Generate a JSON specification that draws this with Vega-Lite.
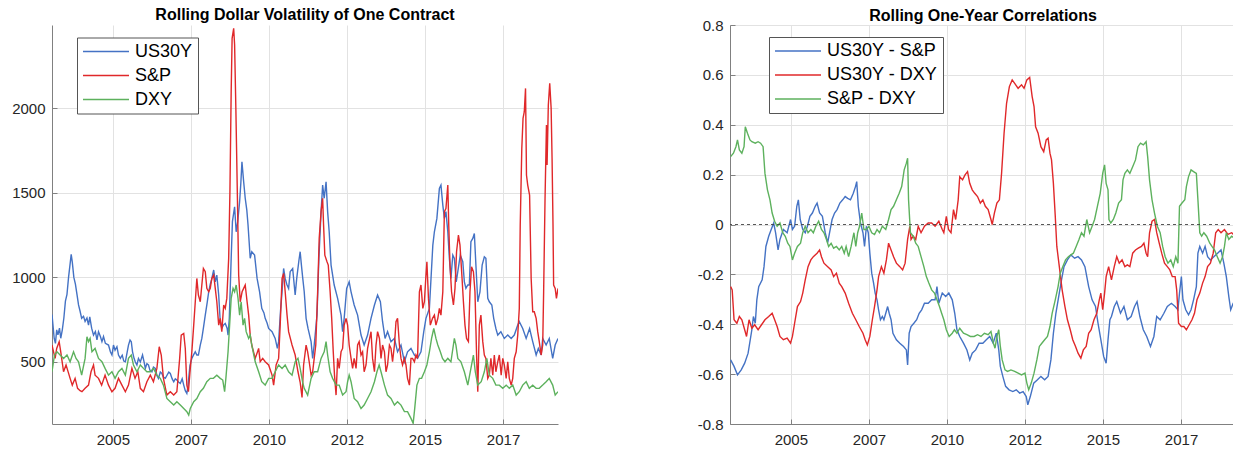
{
"$schema":"https://vega.github.io/schema/vega-lite/v6.json",
"padding":{"left":11,"top":7,"right":0,"bottom":0},
"background":"white",
"config":{
 "view":{"stroke":null},
 "font":"Liberation Sans",
 "axis":{"labelFont":"Liberation Sans","labelFontSize":15,"labelColor":"#262626","domainColor":"#808080","tickColor":"#808080","gridColor":"#E2E2E2","gridWidth":1,"title":null,"tickSize":-5,"labelOverlap":false},
 "axisX":{"labelPadding":13},
 "axisY":{"labelPadding":12},
 "title":{"font":"Liberation Sans","fontSize":16,"fontWeight":"bold","color":"#000000","anchor":"middle","offset":2},
 "legend":{"orient":"none","title":null,"symbolType":"stroke","symbolSize":2116,"symbolStrokeWidth":1.5,"labelFont":"Liberation Sans","labelFontSize":18,"labelColor":"#000000","strokeColor":"#555555","fillColor":"white","padding":5,"labelOffset":5,"clipHeight":18,"rowPadding":6,"symbolOffset":0,"labelLimit":300}
},
"datasets":{
"lu":[{"t":2003.05,"v":780},{"t":2003.08,"v":720},{"t":2003.12,"v":640},{"t":2003.16,"v":610},{"t":2003.2,"v":690},{"t":2003.24,"v":660},{"t":2003.29,"v":700},{"t":2003.33,"v":640},{"t":2003.38,"v":690},{"t":2003.43,"v":760},{"t":2003.48,"v":860},{"t":2003.53,"v":900},{"t":2003.58,"v":1000},{"t":2003.63,"v":1080},{"t":2003.665,"v":1136},{"t":2003.7,"v":1090},{"t":2003.75,"v":1000},{"t":2003.8,"v":960},{"t":2003.85,"v":900},{"t":2003.9,"v":837},{"t":2003.95,"v":800},{"t":2004.0,"v":758},{"t":2004.06,"v":770},{"t":2004.11,"v":740},{"t":2004.17,"v":760},{"t":2004.22,"v":718},{"t":2004.26,"v":767},{"t":2004.32,"v":700},{"t":2004.38,"v":659},{"t":2004.44,"v":680},{"t":2004.49,"v":630},{"t":2004.54,"v":679},{"t":2004.6,"v":650},{"t":2004.65,"v":620},{"t":2004.7,"v":650},{"t":2004.76,"v":610},{"t":2004.86,"v":600},{"t":2004.92,"v":560},{"t":2004.97,"v":541},{"t":2005.02,"v":600},{"t":2005.07,"v":570},{"t":2005.13,"v":590},{"t":2005.18,"v":541},{"t":2005.24,"v":521},{"t":2005.3,"v":540},{"t":2005.35,"v":505},{"t":2005.4,"v":501},{"t":2005.46,"v":560},{"t":2005.5,"v":600},{"t":2005.55,"v":630},{"t":2005.59,"v":620},{"t":2005.63,"v":560},{"t":2005.68,"v":520},{"t":2005.72,"v":500},{"t":2005.77,"v":482},{"t":2005.82,"v":521},{"t":2005.88,"v":500},{"t":2005.95,"v":541},{"t":2006.0,"v":500},{"t":2006.04,"v":462},{"t":2006.09,"v":490},{"t":2006.14,"v":482},{"t":2006.19,"v":450},{"t":2006.25,"v":442},{"t":2006.3,"v":470},{"t":2006.36,"v":462},{"t":2006.41,"v":420},{"t":2006.46,"v":403},{"t":2006.52,"v":440},{"t":2006.57,"v":432},{"t":2006.62,"v":410},{"t":2006.68,"v":403},{"t":2006.73,"v":420},{"t":2006.79,"v":440},{"t":2006.84,"v":432},{"t":2006.9,"v":400},{"t":2006.95,"v":383},{"t":2007.0,"v":400},{"t":2007.05,"v":393},{"t":2007.11,"v":380},{"t":2007.16,"v":373},{"t":2007.22,"v":400},{"t":2007.27,"v":363},{"t":2007.32,"v":330},{"t":2007.37,"v":314},{"t":2007.41,"v":360},{"t":2007.43,"v":403},{"t":2007.47,"v":480},{"t":2007.53,"v":521},{"t":2007.58,"v":540},{"t":2007.64,"v":560},{"t":2007.69,"v":541},{"t":2007.74,"v":541},{"t":2007.8,"v":600},{"t":2007.85,"v":639},{"t":2007.9,"v":700},{"t":2007.96,"v":777},{"t":2008.02,"v":850},{"t":2008.07,"v":915},{"t":2008.12,"v":960},{"t":2008.16,"v":985},{"t":2008.2,"v":1020},{"t":2008.23,"v":1044},{"t":2008.28,"v":974},{"t":2008.33,"v":1014},{"t":2008.39,"v":896},{"t":2008.44,"v":738},{"t":2008.49,"v":700},{"t":2008.54,"v":718},{"t":2008.6,"v":728},{"t":2008.66,"v":700},{"t":2008.69,"v":659},{"t":2008.73,"v":758},{"t":2008.79,"v":1113},{"t":2008.83,"v":1330},{"t":2008.9,"v":1418},{"t":2008.95,"v":1270},{"t":2009.0,"v":1330},{"t":2009.06,"v":1448},{"t":2009.1,"v":1560},{"t":2009.135,"v":1684},{"t":2009.19,"v":1566},{"t":2009.24,"v":1468},{"t":2009.29,"v":1400},{"t":2009.33,"v":1310},{"t":2009.4,"v":1113},{"t":2009.45,"v":1152},{"t":2009.54,"v":1132},{"t":2009.62,"v":994},{"t":2009.7,"v":915},{"t":2009.77,"v":817},{"t":2009.84,"v":790},{"t":2009.88,"v":758},{"t":2009.94,"v":730},{"t":2009.99,"v":698},{"t":2010.1,"v":679},{"t":2010.2,"v":639},{"t":2010.27,"v":580},{"t":2010.31,"v":620},{"t":2010.37,"v":800},{"t":2010.42,"v":915},{"t":2010.47,"v":1053},{"t":2010.52,"v":994},{"t":2010.57,"v":960},{"t":2010.63,"v":935},{"t":2010.68,"v":1034},{"t":2010.76,"v":1053},{"t":2010.84,"v":896},{"t":2010.89,"v":994},{"t":2010.96,"v":1100},{"t":2011.0,"v":1152},{"t":2011.04,"v":1073},{"t":2011.08,"v":1000},{"t":2011.13,"v":915},{"t":2011.19,"v":758},{"t":2011.25,"v":700},{"t":2011.3,"v":660},{"t":2011.35,"v":620},{"t":2011.4,"v":521},{"t":2011.45,"v":600},{"t":2011.54,"v":777},{"t":2011.6,"v":1113},{"t":2011.67,"v":1389},{"t":2011.72,"v":1546},{"t":2011.77,"v":1468},{"t":2011.83,"v":1566},{"t":2011.88,"v":1389},{"t":2011.93,"v":1270},{"t":2011.99,"v":1073},{"t":2012.04,"v":1014},{"t":2012.09,"v":955},{"t":2012.2,"v":876},{"t":2012.31,"v":777},{"t":2012.36,"v":679},{"t":2012.41,"v":758},{"t":2012.49,"v":935},{"t":2012.57,"v":974},{"t":2012.63,"v":915},{"t":2012.73,"v":837},{"t":2012.84,"v":777},{"t":2012.95,"v":659},{"t":2013.05,"v":600},{"t":2013.16,"v":659},{"t":2013.27,"v":758},{"t":2013.38,"v":837},{"t":2013.48,"v":896},{"t":2013.57,"v":856},{"t":2013.64,"v":738},{"t":2013.72,"v":639},{"t":2013.8,"v":679},{"t":2013.91,"v":620},{"t":2014.02,"v":639},{"t":2014.12,"v":560},{"t":2014.23,"v":600},{"t":2014.34,"v":501},{"t":2014.44,"v":560},{"t":2014.55,"v":580},{"t":2014.66,"v":541},{"t":2014.76,"v":521},{"t":2014.87,"v":560},{"t":2014.96,"v":679},{"t":2015.03,"v":758},{"t":2015.14,"v":817},{"t":2015.25,"v":1191},{"t":2015.3,"v":1270},{"t":2015.38,"v":1349},{"t":2015.46,"v":1527},{"t":2015.51,"v":1546},{"t":2015.57,"v":1428},{"t":2015.62,"v":1349},{"t":2015.67,"v":1389},{"t":2015.73,"v":1270},{"t":2015.78,"v":1113},{"t":2015.83,"v":994},{"t":2015.89,"v":1132},{"t":2015.94,"v":1113},{"t":2016.0,"v":974},{"t":2016.05,"v":1034},{"t":2016.13,"v":1132},{"t":2016.21,"v":1093},{"t":2016.26,"v":974},{"t":2016.31,"v":935},{"t":2016.37,"v":955},{"t":2016.42,"v":955},{"t":2016.47,"v":1211},{"t":2016.53,"v":1231},{"t":2016.58,"v":1260},{"t":2016.63,"v":1073},{"t":2016.69,"v":856},{"t":2016.76,"v":915},{"t":2016.83,"v":1073},{"t":2016.9,"v":1122},{"t":2016.95,"v":1113},{"t":2017.01,"v":876},{"t":2017.06,"v":856},{"t":2017.14,"v":837},{"t":2017.2,"v":758},{"t":2017.27,"v":698},{"t":2017.33,"v":659},{"t":2017.43,"v":679},{"t":2017.54,"v":639},{"t":2017.65,"v":659},{"t":2017.76,"v":639},{"t":2017.86,"v":659},{"t":2017.97,"v":718},{"t":2018.02,"v":738},{"t":2018.13,"v":698},{"t":2018.24,"v":639},{"t":2018.35,"v":698},{"t":2018.45,"v":620},{"t":2018.56,"v":541},{"t":2018.63,"v":580},{"t":2018.72,"v":541},{"t":2018.77,"v":639},{"t":2018.88,"v":600},{"t":2018.98,"v":639},{"t":2019.09,"v":521},{"t":2019.17,"v":600},{"t":2019.26,"v":639}],
"ls":[{"t":2003.05,"v":600},{"t":2003.1,"v":560},{"t":2003.15,"v":521},{"t":2003.2,"v":580},{"t":2003.28,"v":620},{"t":2003.33,"v":560},{"t":2003.36,"v":521},{"t":2003.42,"v":442},{"t":2003.5,"v":482},{"t":2003.57,"v":440},{"t":2003.63,"v":403},{"t":2003.7,"v":363},{"t":2003.79,"v":403},{"t":2003.87,"v":344},{"t":2003.95,"v":330},{"t":2004.01,"v":324},{"t":2004.11,"v":344},{"t":2004.22,"v":363},{"t":2004.3,"v":442},{"t":2004.38,"v":482},{"t":2004.43,"v":422},{"t":2004.54,"v":403},{"t":2004.64,"v":363},{"t":2004.75,"v":422},{"t":2004.86,"v":363},{"t":2004.97,"v":324},{"t":2005.07,"v":344},{"t":2005.18,"v":403},{"t":2005.29,"v":363},{"t":2005.4,"v":324},{"t":2005.5,"v":363},{"t":2005.61,"v":462},{"t":2005.71,"v":403},{"t":2005.8,"v":442},{"t":2005.88,"v":344},{"t":2005.98,"v":324},{"t":2006.09,"v":383},{"t":2006.2,"v":422},{"t":2006.3,"v":383},{"t":2006.41,"v":462},{"t":2006.485,"v":590},{"t":2006.55,"v":541},{"t":2006.62,"v":403},{"t":2006.73,"v":304},{"t":2006.84,"v":324},{"t":2006.95,"v":304},{"t":2007.05,"v":324},{"t":2007.14,"v":521},{"t":2007.19,"v":659},{"t":2007.27,"v":669},{"t":2007.32,"v":580},{"t":2007.37,"v":363},{"t":2007.42,"v":324},{"t":2007.48,"v":462},{"t":2007.53,"v":560},{"t":2007.59,"v":718},{"t":2007.64,"v":856},{"t":2007.69,"v":994},{"t":2007.74,"v":896},{"t":2007.8,"v":856},{"t":2007.85,"v":955},{"t":2007.9,"v":1053},{"t":2007.96,"v":1034},{"t":2008.01,"v":935},{"t":2008.07,"v":915},{"t":2008.12,"v":935},{"t":2008.17,"v":994},{"t":2008.23,"v":1014},{"t":2008.28,"v":935},{"t":2008.33,"v":856},{"t":2008.39,"v":718},{"t":2008.44,"v":758},{"t":2008.49,"v":679},{"t":2008.55,"v":837},{"t":2008.6,"v":817},{"t":2008.65,"v":876},{"t":2008.71,"v":1113},{"t":2008.75,"v":1507},{"t":2008.79,"v":2099},{"t":2008.82,"v":2414},{"t":2008.87,"v":2473},{"t":2008.9,"v":2375},{"t":2008.94,"v":2000},{"t":2008.99,"v":1468},{"t":2009.03,"v":1014},{"t":2009.08,"v":856},{"t":2009.14,"v":915},{"t":2009.19,"v":935},{"t":2009.24,"v":955},{"t":2009.3,"v":856},{"t":2009.35,"v":777},{"t":2009.4,"v":659},{"t":2009.45,"v":600},{"t":2009.56,"v":521},{"t":2009.67,"v":580},{"t":2009.72,"v":501},{"t":2009.8,"v":521},{"t":2009.88,"v":501},{"t":2009.99,"v":482},{"t":2010.1,"v":422},{"t":2010.15,"v":363},{"t":2010.23,"v":482},{"t":2010.31,"v":521},{"t":2010.36,"v":718},{"t":2010.42,"v":994},{"t":2010.47,"v":1024},{"t":2010.52,"v":915},{"t":2010.58,"v":777},{"t":2010.63,"v":679},{"t":2010.74,"v":600},{"t":2010.84,"v":541},{"t":2010.93,"v":442},{"t":2011.0,"v":380},{"t":2011.06,"v":290},{"t":2011.11,"v":482},{"t":2011.19,"v":600},{"t":2011.24,"v":560},{"t":2011.29,"v":501},{"t":2011.35,"v":422},{"t":2011.4,"v":442},{"t":2011.45,"v":521},{"t":2011.5,"v":600},{"t":2011.56,"v":915},{"t":2011.61,"v":1231},{"t":2011.67,"v":1389},{"t":2011.72,"v":1468},{"t":2011.75,"v":1310},{"t":2011.79,"v":1132},{"t":2011.86,"v":1093},{"t":2011.9,"v":1073},{"t":2011.96,"v":915},{"t":2012.01,"v":758},{"t":2012.06,"v":560},{"t":2012.1,"v":422},{"t":2012.15,"v":304},{"t":2012.2,"v":521},{"t":2012.25,"v":462},{"t":2012.31,"v":560},{"t":2012.36,"v":580},{"t":2012.41,"v":718},{"t":2012.47,"v":758},{"t":2012.52,"v":718},{"t":2012.57,"v":600},{"t":2012.63,"v":521},{"t":2012.68,"v":462},{"t":2012.73,"v":521},{"t":2012.79,"v":462},{"t":2012.84,"v":600},{"t":2012.89,"v":620},{"t":2012.95,"v":541},{"t":2013.0,"v":560},{"t":2013.05,"v":442},{"t":2013.11,"v":482},{"t":2013.16,"v":580},{"t":2013.27,"v":679},{"t":2013.32,"v":521},{"t":2013.38,"v":442},{"t":2013.43,"v":600},{"t":2013.48,"v":679},{"t":2013.54,"v":639},{"t":2013.59,"v":521},{"t":2013.64,"v":600},{"t":2013.7,"v":560},{"t":2013.75,"v":442},{"t":2013.8,"v":482},{"t":2013.86,"v":600},{"t":2013.91,"v":580},{"t":2013.96,"v":501},{"t":2014.02,"v":600},{"t":2014.07,"v":738},{"t":2014.12,"v":758},{"t":2014.18,"v":600},{"t":2014.23,"v":521},{"t":2014.28,"v":482},{"t":2014.34,"v":521},{"t":2014.39,"v":482},{"t":2014.44,"v":403},{"t":2014.5,"v":363},{"t":2014.55,"v":521},{"t":2014.6,"v":521},{"t":2014.66,"v":501},{"t":2014.71,"v":541},{"t":2014.76,"v":521},{"t":2014.82,"v":915},{"t":2014.87,"v":955},{"t":2014.93,"v":817},{"t":2014.98,"v":856},{"t":2015.03,"v":1014},{"t":2015.06,"v":1093},{"t":2015.11,"v":876},{"t":2015.17,"v":718},{"t":2015.24,"v":758},{"t":2015.3,"v":777},{"t":2015.35,"v":718},{"t":2015.41,"v":758},{"t":2015.46,"v":817},{"t":2015.51,"v":777},{"t":2015.57,"v":915},{"t":2015.62,"v":1389},{"t":2015.67,"v":1408},{"t":2015.73,"v":1546},{"t":2015.76,"v":1310},{"t":2015.8,"v":1073},{"t":2015.85,"v":915},{"t":2015.91,"v":837},{"t":2015.96,"v":935},{"t":2016.01,"v":1152},{"t":2016.07,"v":1251},{"t":2016.12,"v":1191},{"t":2016.18,"v":1014},{"t":2016.23,"v":856},{"t":2016.28,"v":718},{"t":2016.33,"v":639},{"t":2016.39,"v":620},{"t":2016.44,"v":915},{"t":2016.49,"v":1063},{"t":2016.55,"v":1034},{"t":2016.6,"v":915},{"t":2016.655,"v":521},{"t":2016.69,"v":324},{"t":2016.74,"v":718},{"t":2016.79,"v":777},{"t":2016.85,"v":620},{"t":2016.9,"v":541},{"t":2016.95,"v":521},{"t":2017.01,"v":403},{"t":2017.06,"v":422},{"t":2017.11,"v":521},{"t":2017.17,"v":422},{"t":2017.22,"v":541},{"t":2017.27,"v":442},{"t":2017.33,"v":501},{"t":2017.38,"v":541},{"t":2017.44,"v":422},{"t":2017.49,"v":521},{"t":2017.54,"v":482},{"t":2017.6,"v":403},{"t":2017.65,"v":501},{"t":2017.7,"v":403},{"t":2017.76,"v":363},{"t":2017.81,"v":403},{"t":2017.86,"v":521},{"t":2017.92,"v":560},{"t":2017.97,"v":659},{"t":2018.02,"v":817},{"t":2018.05,"v":1310},{"t":2018.1,"v":1763},{"t":2018.14,"v":1941},{"t":2018.18,"v":1980},{"t":2018.22,"v":2118},{"t":2018.25,"v":1606},{"t":2018.29,"v":1546},{"t":2018.35,"v":1487},{"t":2018.4,"v":994},{"t":2018.45,"v":797},{"t":2018.5,"v":797},{"t":2018.56,"v":758},{"t":2018.61,"v":679},{"t":2018.66,"v":620},{"t":2018.72,"v":541},{"t":2018.77,"v":600},{"t":2018.8,"v":915},{"t":2018.845,"v":1468},{"t":2018.89,"v":1901},{"t":2018.91,"v":1665},{"t":2018.95,"v":2020},{"t":2018.995,"v":2148},{"t":2019.04,"v":2000},{"t":2019.07,"v":1704},{"t":2019.1,"v":1310},{"t":2019.12,"v":955},{"t":2019.17,"v":935},{"t":2019.21,"v":876},{"t":2019.26,"v":935}],
"ld":[{"t":2003.05,"v":442},{"t":2003.13,"v":541},{"t":2003.21,"v":560},{"t":2003.31,"v":541},{"t":2003.42,"v":521},{"t":2003.53,"v":541},{"t":2003.63,"v":501},{"t":2003.74,"v":560},{"t":2003.82,"v":521},{"t":2003.9,"v":501},{"t":2004.0,"v":422},{"t":2004.11,"v":521},{"t":2004.17,"v":649},{"t":2004.22,"v":620},{"t":2004.27,"v":639},{"t":2004.33,"v":560},{"t":2004.43,"v":580},{"t":2004.54,"v":521},{"t":2004.65,"v":501},{"t":2004.75,"v":462},{"t":2004.86,"v":422},{"t":2004.97,"v":442},{"t":2005.07,"v":403},{"t":2005.18,"v":442},{"t":2005.29,"v":462},{"t":2005.4,"v":422},{"t":2005.5,"v":521},{"t":2005.59,"v":541},{"t":2005.66,"v":482},{"t":2005.77,"v":442},{"t":2005.88,"v":482},{"t":2005.98,"v":462},{"t":2006.09,"v":442},{"t":2006.2,"v":442},{"t":2006.3,"v":462},{"t":2006.41,"v":422},{"t":2006.52,"v":403},{"t":2006.62,"v":363},{"t":2006.73,"v":284},{"t":2006.84,"v":265},{"t":2006.95,"v":245},{"t":2007.05,"v":265},{"t":2007.16,"v":245},{"t":2007.27,"v":225},{"t":2007.37,"v":206},{"t":2007.43,"v":186},{"t":2007.48,"v":225},{"t":2007.59,"v":265},{"t":2007.69,"v":284},{"t":2007.8,"v":324},{"t":2007.9,"v":344},{"t":2008.01,"v":383},{"t":2008.12,"v":403},{"t":2008.22,"v":403},{"t":2008.33,"v":422},{"t":2008.44,"v":403},{"t":2008.52,"v":393},{"t":2008.58,"v":324},{"t":2008.62,"v":403},{"t":2008.69,"v":560},{"t":2008.74,"v":718},{"t":2008.79,"v":876},{"t":2008.85,"v":935},{"t":2008.9,"v":915},{"t":2008.95,"v":955},{"t":2009.01,"v":876},{"t":2009.06,"v":777},{"t":2009.11,"v":856},{"t":2009.17,"v":718},{"t":2009.22,"v":758},{"t":2009.27,"v":679},{"t":2009.35,"v":639},{"t":2009.4,"v":659},{"t":2009.45,"v":600},{"t":2009.56,"v":501},{"t":2009.67,"v":442},{"t":2009.77,"v":383},{"t":2009.88,"v":363},{"t":2009.99,"v":403},{"t":2010.1,"v":403},{"t":2010.2,"v":442},{"t":2010.31,"v":482},{"t":2010.42,"v":462},{"t":2010.52,"v":482},{"t":2010.63,"v":442},{"t":2010.74,"v":422},{"t":2010.84,"v":501},{"t":2010.93,"v":521},{"t":2011.0,"v":462},{"t":2011.08,"v":380},{"t":2011.13,"v":344},{"t":2011.24,"v":304},{"t":2011.35,"v":403},{"t":2011.45,"v":442},{"t":2011.56,"v":442},{"t":2011.67,"v":521},{"t":2011.77,"v":560},{"t":2011.83,"v":620},{"t":2011.88,"v":541},{"t":2011.96,"v":442},{"t":2012.04,"v":403},{"t":2012.15,"v":363},{"t":2012.25,"v":363},{"t":2012.36,"v":304},{"t":2012.47,"v":324},{"t":2012.52,"v":383},{"t":2012.57,"v":422},{"t":2012.63,"v":383},{"t":2012.73,"v":284},{"t":2012.84,"v":265},{"t":2012.95,"v":225},{"t":2013.05,"v":245},{"t":2013.16,"v":284},{"t":2013.27,"v":324},{"t":2013.38,"v":383},{"t":2013.46,"v":442},{"t":2013.53,"v":482},{"t":2013.59,"v":442},{"t":2013.7,"v":363},{"t":2013.8,"v":304},{"t":2013.91,"v":284},{"t":2014.02,"v":245},{"t":2014.12,"v":265},{"t":2014.23,"v":245},{"t":2014.34,"v":206},{"t":2014.44,"v":206},{"t":2014.55,"v":166},{"t":2014.62,"v":137},{"t":2014.67,"v":225},{"t":2014.74,"v":363},{"t":2014.82,"v":403},{"t":2014.89,"v":403},{"t":2014.98,"v":442},{"t":2015.06,"v":482},{"t":2015.14,"v":560},{"t":2015.21,"v":639},{"t":2015.28,"v":698},{"t":2015.35,"v":639},{"t":2015.41,"v":600},{"t":2015.49,"v":560},{"t":2015.56,"v":521},{"t":2015.64,"v":501},{"t":2015.73,"v":521},{"t":2015.83,"v":501},{"t":2015.94,"v":639},{"t":2015.99,"v":600},{"t":2016.05,"v":521},{"t":2016.15,"v":501},{"t":2016.26,"v":442},{"t":2016.37,"v":363},{"t":2016.47,"v":462},{"t":2016.55,"v":541},{"t":2016.61,"v":442},{"t":2016.69,"v":363},{"t":2016.8,"v":383},{"t":2016.9,"v":442},{"t":2016.98,"v":521},{"t":2017.06,"v":422},{"t":2017.17,"v":403},{"t":2017.27,"v":363},{"t":2017.38,"v":363},{"t":2017.49,"v":344},{"t":2017.6,"v":363},{"t":2017.7,"v":344},{"t":2017.81,"v":363},{"t":2017.92,"v":304},{"t":2018.02,"v":324},{"t":2018.13,"v":363},{"t":2018.24,"v":383},{"t":2018.34,"v":344},{"t":2018.45,"v":363},{"t":2018.56,"v":344},{"t":2018.66,"v":344},{"t":2018.77,"v":363},{"t":2018.88,"v":383},{"t":2018.98,"v":403},{"t":2019.09,"v":363},{"t":2019.17,"v":304},{"t":2019.26,"v":324}],
"rus":[{"t":2003.07,"v":-0.543},{"t":2003.18,"v":-0.569},{"t":2003.29,"v":-0.603},{"t":2003.41,"v":-0.583},{"t":2003.52,"v":-0.556},{"t":2003.63,"v":-0.516},{"t":2003.75,"v":-0.422},{"t":2003.8,"v":-0.369},{"t":2003.86,"v":-0.396},{"t":2003.91,"v":-0.302},{"t":2003.97,"v":-0.249},{"t":2004.08,"v":-0.222},{"t":2004.14,"v":-0.169},{"t":2004.2,"v":-0.088},{"t":2004.29,"v":-0.047},{"t":2004.37,"v":-0.02},{"t":2004.45,"v":0.006},{"t":2004.51,"v":-0.033},{"t":2004.59,"v":-0.102},{"t":2004.65,"v":-0.06},{"t":2004.76,"v":-0.02},{"t":2004.88,"v":-0.033},{"t":2004.99,"v":0.02},{"t":2005.05,"v":-0.02},{"t":2005.12,"v":-0.007},{"t":2005.19,"v":0.073},{"t":2005.24,"v":0.099},{"t":2005.3,"v":0.02},{"t":2005.38,"v":-0.02},{"t":2005.46,"v":-0.033},{"t":2005.53,"v":-0.007},{"t":2005.61,"v":0.033},{"t":2005.69,"v":0.046},{"t":2005.78,"v":0.073},{"t":2005.84,"v":0.086},{"t":2005.92,"v":0.046},{"t":2006.01,"v":0.033},{"t":2006.1,"v":-0.033},{"t":2006.18,"v":-0.073},{"t":2006.26,"v":-0.02},{"t":2006.32,"v":0.02},{"t":2006.4,"v":0.046},{"t":2006.48,"v":0.06},{"t":2006.57,"v":0.086},{"t":2006.66,"v":0.099},{"t":2006.74,"v":0.112},{"t":2006.82,"v":0.105},{"t":2006.91,"v":0.099},{"t":2007.0,"v":0.125},{"t":2007.07,"v":0.152},{"t":2007.11,"v":0.172},{"t":2007.16,"v":0.073},{"t":2007.23,"v":0.006},{"t":2007.31,"v":-0.033},{"t":2007.36,"v":-0.088},{"t":2007.42,"v":-0.007},{"t":2007.48,"v":-0.033},{"t":2007.53,"v":-0.115},{"t":2007.59,"v":-0.195},{"t":2007.65,"v":-0.235},{"t":2007.7,"v":-0.275},{"t":2007.76,"v":-0.302},{"t":2007.81,"v":-0.342},{"t":2007.87,"v":-0.382},{"t":2007.93,"v":-0.369},{"t":2007.98,"v":-0.382},{"t":2008.04,"v":-0.356},{"t":2008.1,"v":-0.329},{"t":2008.15,"v":-0.356},{"t":2008.21,"v":-0.382},{"t":2008.27,"v":-0.436},{"t":2008.38,"v":-0.462},{"t":2008.49,"v":-0.476},{"t":2008.61,"v":-0.489},{"t":2008.7,"v":-0.503},{"t":2008.74,"v":-0.563},{"t":2008.79,"v":-0.436},{"t":2008.85,"v":-0.409},{"t":2008.94,"v":-0.396},{"t":2009.03,"v":-0.382},{"t":2009.11,"v":-0.356},{"t":2009.19,"v":-0.342},{"t":2009.28,"v":-0.316},{"t":2009.4,"v":-0.316},{"t":2009.51,"v":-0.302},{"t":2009.62,"v":-0.302},{"t":2009.68,"v":-0.249},{"t":2009.74,"v":-0.316},{"t":2009.85,"v":-0.275},{"t":2009.96,"v":-0.289},{"t":2010.06,"v":-0.275},{"t":2010.17,"v":-0.302},{"t":2010.25,"v":-0.356},{"t":2010.32,"v":-0.422},{"t":2010.41,"v":-0.449},{"t":2010.53,"v":-0.476},{"t":2010.64,"v":-0.503},{"t":2010.73,"v":-0.543},{"t":2010.81,"v":-0.516},{"t":2010.92,"v":-0.503},{"t":2011.03,"v":-0.476},{"t":2011.15,"v":-0.476},{"t":2011.26,"v":-0.462},{"t":2011.37,"v":-0.449},{"t":2011.48,"v":-0.476},{"t":2011.58,"v":-0.436},{"t":2011.66,"v":-0.503},{"t":2011.71,"v":-0.569},{"t":2011.79,"v":-0.609},{"t":2011.88,"v":-0.649},{"t":2011.99,"v":-0.663},{"t":2012.11,"v":-0.67},{"t":2012.22,"v":-0.663},{"t":2012.33,"v":-0.676},{"t":2012.44,"v":-0.67},{"t":2012.54,"v":-0.69},{"t":2012.59,"v":-0.723},{"t":2012.67,"v":-0.69},{"t":2012.78,"v":-0.636},{"t":2012.9,"v":-0.623},{"t":2013.01,"v":-0.609},{"t":2013.13,"v":-0.623},{"t":2013.24,"v":-0.609},{"t":2013.33,"v":-0.543},{"t":2013.41,"v":-0.436},{"t":2013.49,"v":-0.356},{"t":2013.58,"v":-0.289},{"t":2013.67,"v":-0.222},{"t":2013.75,"v":-0.169},{"t":2013.86,"v":-0.142},{"t":2013.97,"v":-0.122},{"t":2014.09,"v":-0.135},{"t":2014.2,"v":-0.129},{"t":2014.31,"v":-0.142},{"t":2014.42,"v":-0.169},{"t":2014.54,"v":-0.249},{"t":2014.65,"v":-0.302},{"t":2014.76,"v":-0.329},{"t":2014.84,"v":-0.396},{"t":2014.93,"v":-0.462},{"t":2015.02,"v":-0.529},{"t":2015.1,"v":-0.556},{"t":2015.16,"v":-0.462},{"t":2015.22,"v":-0.382},{"t":2015.27,"v":-0.369},{"t":2015.36,"v":-0.329},{"t":2015.44,"v":-0.309},{"t":2015.56,"v":-0.356},{"t":2015.67,"v":-0.329},{"t":2015.78,"v":-0.382},{"t":2015.9,"v":-0.369},{"t":2016.01,"v":-0.329},{"t":2016.09,"v":-0.309},{"t":2016.18,"v":-0.369},{"t":2016.29,"v":-0.422},{"t":2016.4,"v":-0.449},{"t":2016.52,"v":-0.489},{"t":2016.63,"v":-0.449},{"t":2016.72,"v":-0.369},{"t":2016.83,"v":-0.382},{"t":2016.95,"v":-0.356},{"t":2017.06,"v":-0.329},{"t":2017.19,"v":-0.316},{"t":2017.31,"v":-0.329},{"t":2017.4,"v":-0.342},{"t":2017.45,"v":-0.275},{"t":2017.51,"v":-0.209},{"t":2017.56,"v":-0.302},{"t":2017.65,"v":-0.342},{"t":2017.74,"v":-0.362},{"t":2017.82,"v":-0.342},{"t":2017.9,"v":-0.302},{"t":2017.99,"v":-0.249},{"t":2018.04,"v":-0.115},{"t":2018.1,"v":-0.088},{"t":2018.19,"v":-0.115},{"t":2018.27,"v":-0.088},{"t":2018.35,"v":-0.129},{"t":2018.44,"v":-0.142},{"t":2018.55,"v":-0.129},{"t":2018.67,"v":-0.115},{"t":2018.78,"v":-0.102},{"t":2018.87,"v":-0.155},{"t":2018.95,"v":-0.209},{"t":2019.03,"v":-0.289},{"t":2019.09,"v":-0.342},{"t":2019.17,"v":-0.316},{"t":2019.26,"v":-0.31}],
"rud":[{"t":2003.07,"v":-0.249},{"t":2003.12,"v":-0.262},{"t":2003.18,"v":-0.382},{"t":2003.27,"v":-0.396},{"t":2003.35,"v":-0.369},{"t":2003.43,"v":-0.382},{"t":2003.52,"v":-0.422},{"t":2003.58,"v":-0.449},{"t":2003.66,"v":-0.382},{"t":2003.75,"v":-0.416},{"t":2003.84,"v":-0.402},{"t":2003.95,"v":-0.422},{"t":2004.06,"v":-0.402},{"t":2004.17,"v":-0.382},{"t":2004.29,"v":-0.369},{"t":2004.4,"v":-0.356},{"t":2004.48,"v":-0.382},{"t":2004.56,"v":-0.409},{"t":2004.65,"v":-0.449},{"t":2004.76,"v":-0.462},{"t":2004.88,"v":-0.456},{"t":2004.99,"v":-0.476},{"t":2005.05,"v":-0.449},{"t":2005.12,"v":-0.396},{"t":2005.21,"v":-0.329},{"t":2005.31,"v":-0.309},{"t":2005.38,"v":-0.275},{"t":2005.46,"v":-0.222},{"t":2005.55,"v":-0.169},{"t":2005.64,"v":-0.142},{"t":2005.72,"v":-0.129},{"t":2005.84,"v":-0.115},{"t":2005.92,"v":-0.102},{"t":2005.98,"v":-0.129},{"t":2006.06,"v":-0.155},{"t":2006.18,"v":-0.169},{"t":2006.29,"v":-0.182},{"t":2006.37,"v":-0.209},{"t":2006.46,"v":-0.195},{"t":2006.55,"v":-0.235},{"t":2006.63,"v":-0.249},{"t":2006.74,"v":-0.275},{"t":2006.85,"v":-0.316},{"t":2006.97,"v":-0.356},{"t":2007.08,"v":-0.382},{"t":2007.19,"v":-0.409},{"t":2007.31,"v":-0.436},{"t":2007.38,"v":-0.462},{"t":2007.45,"v":-0.483},{"t":2007.53,"v":-0.449},{"t":2007.61,"v":-0.382},{"t":2007.68,"v":-0.329},{"t":2007.76,"v":-0.262},{"t":2007.81,"v":-0.209},{"t":2007.9,"v":-0.169},{"t":2007.98,"v":-0.195},{"t":2008.06,"v":-0.142},{"t":2008.13,"v":-0.075},{"t":2008.21,"v":-0.102},{"t":2008.29,"v":-0.129},{"t":2008.38,"v":-0.155},{"t":2008.49,"v":-0.169},{"t":2008.58,"v":-0.182},{"t":2008.66,"v":-0.155},{"t":2008.74,"v":-0.06},{"t":2008.81,"v":-0.007},{"t":2008.85,"v":-0.06},{"t":2008.92,"v":-0.047},{"t":2009.0,"v":-0.06},{"t":2009.08,"v":-0.007},{"t":2009.17,"v":-0.033},{"t":2009.28,"v":-0.007},{"t":2009.4,"v":0.006},{"t":2009.51,"v":0.006},{"t":2009.62,"v":-0.007},{"t":2009.74,"v":0.013},{"t":2009.85,"v":-0.02},{"t":2009.9,"v":-0.033},{"t":2009.98,"v":0.033},{"t":2010.05,"v":-0.02},{"t":2010.13,"v":-0.033},{"t":2010.21,"v":0.06},{"t":2010.28,"v":0.02},{"t":2010.36,"v":0.099},{"t":2010.41,"v":0.192},{"t":2010.5,"v":0.179},{"t":2010.58,"v":0.199},{"t":2010.66,"v":0.212},{"t":2010.73,"v":0.165},{"t":2010.81,"v":0.139},{"t":2010.89,"v":0.125},{"t":2010.98,"v":0.112},{"t":2011.07,"v":0.086},{"t":2011.15,"v":0.099},{"t":2011.23,"v":0.073},{"t":2011.32,"v":0.06},{"t":2011.41,"v":0.02},{"t":2011.45,"v":0.0},{"t":2011.52,"v":0.046},{"t":2011.6,"v":0.086},{"t":2011.68,"v":0.099},{"t":2011.75,"v":0.205},{"t":2011.83,"v":0.366},{"t":2011.91,"v":0.486},{"t":2012.0,"v":0.553},{"t":2012.09,"v":0.58},{"t":2012.17,"v":0.566},{"t":2012.28,"v":0.546},{"t":2012.39,"v":0.56},{"t":2012.47,"v":0.546},{"t":2012.56,"v":0.58},{"t":2012.65,"v":0.59},{"t":2012.73,"v":0.513},{"t":2012.79,"v":0.473},{"t":2012.84,"v":0.392},{"t":2012.92,"v":0.366},{"t":2013.01,"v":0.312},{"t":2013.1,"v":0.292},{"t":2013.18,"v":0.339},{"t":2013.24,"v":0.346},{"t":2013.3,"v":0.286},{"t":2013.35,"v":0.259},{"t":2013.41,"v":0.165},{"t":2013.47,"v":0.033},{"t":2013.52,"v":-0.088},{"t":2013.6,"v":-0.169},{"t":2013.69,"v":-0.262},{"t":2013.78,"v":-0.329},{"t":2013.86,"v":-0.382},{"t":2013.95,"v":-0.422},{"t":2014.03,"v":-0.462},{"t":2014.12,"v":-0.489},{"t":2014.2,"v":-0.516},{"t":2014.29,"v":-0.536},{"t":2014.37,"v":-0.503},{"t":2014.46,"v":-0.489},{"t":2014.54,"v":-0.436},{"t":2014.62,"v":-0.422},{"t":2014.71,"v":-0.382},{"t":2014.8,"v":-0.356},{"t":2014.88,"v":-0.302},{"t":2014.93,"v":-0.275},{"t":2014.99,"v":-0.342},{"t":2015.05,"v":-0.275},{"t":2015.1,"v":-0.209},{"t":2015.18,"v":-0.169},{"t":2015.27,"v":-0.222},{"t":2015.36,"v":-0.169},{"t":2015.44,"v":-0.129},{"t":2015.52,"v":-0.155},{"t":2015.61,"v":-0.142},{"t":2015.7,"v":-0.169},{"t":2015.78,"v":-0.162},{"t":2015.86,"v":-0.169},{"t":2015.95,"v":-0.115},{"t":2016.04,"v":-0.102},{"t":2016.13,"v":-0.095},{"t":2016.23,"v":-0.088},{"t":2016.31,"v":-0.075},{"t":2016.38,"v":-0.115},{"t":2016.43,"v":-0.129},{"t":2016.49,"v":-0.033},{"t":2016.57,"v":0.013},{"t":2016.65,"v":0.02},{"t":2016.72,"v":-0.033},{"t":2016.8,"v":-0.075},{"t":2016.88,"v":-0.115},{"t":2016.97,"v":-0.155},{"t":2017.06,"v":-0.169},{"t":2017.14,"v":-0.182},{"t":2017.22,"v":-0.209},{"t":2017.31,"v":-0.209},{"t":2017.36,"v":-0.262},{"t":2017.42,"v":-0.396},{"t":2017.51,"v":-0.409},{"t":2017.59,"v":-0.409},{"t":2017.67,"v":-0.422},{"t":2017.76,"v":-0.402},{"t":2017.85,"v":-0.382},{"t":2017.93,"v":-0.356},{"t":2018.01,"v":-0.302},{"t":2018.1,"v":-0.275},{"t":2018.19,"v":-0.235},{"t":2018.27,"v":-0.209},{"t":2018.35,"v":-0.169},{"t":2018.44,"v":-0.155},{"t":2018.53,"v":-0.115},{"t":2018.61,"v":-0.033},{"t":2018.69,"v":-0.02},{"t":2018.78,"v":-0.033},{"t":2018.89,"v":-0.02},{"t":2019.0,"v":-0.04},{"t":2019.12,"v":-0.033},{"t":2019.26,"v":-0.05}],
"rsd":[{"t":2003.07,"v":0.272},{"t":2003.16,"v":0.286},{"t":2003.24,"v":0.312},{"t":2003.29,"v":0.339},{"t":2003.35,"v":0.299},{"t":2003.43,"v":0.286},{"t":2003.5,"v":0.312},{"t":2003.54,"v":0.392},{"t":2003.61,"v":0.366},{"t":2003.69,"v":0.339},{"t":2003.75,"v":0.332},{"t":2003.86,"v":0.326},{"t":2003.95,"v":0.332},{"t":2004.03,"v":0.326},{"t":2004.11,"v":0.312},{"t":2004.17,"v":0.205},{"t":2004.25,"v":0.139},{"t":2004.33,"v":0.099},{"t":2004.4,"v":0.046},{"t":2004.48,"v":0.013},{"t":2004.56,"v":-0.007},{"t":2004.65,"v":0.006},{"t":2004.74,"v":-0.033},{"t":2004.82,"v":-0.047},{"t":2004.9,"v":-0.075},{"t":2004.97,"v":-0.088},{"t":2005.05,"v":-0.142},{"t":2005.12,"v":-0.115},{"t":2005.21,"v":-0.088},{"t":2005.31,"v":-0.075},{"t":2005.38,"v":-0.033},{"t":2005.46,"v":-0.007},{"t":2005.55,"v":-0.033},{"t":2005.64,"v":-0.02},{"t":2005.72,"v":-0.033},{"t":2005.8,"v":-0.007},{"t":2005.89,"v":0.013},{"t":2005.98,"v":-0.02},{"t":2006.06,"v":-0.033},{"t":2006.14,"v":-0.06},{"t":2006.21,"v":-0.088},{"t":2006.29,"v":-0.075},{"t":2006.37,"v":-0.095},{"t":2006.46,"v":-0.088},{"t":2006.55,"v":-0.102},{"t":2006.63,"v":-0.088},{"t":2006.71,"v":-0.115},{"t":2006.77,"v":-0.088},{"t":2006.85,"v":-0.129},{"t":2006.93,"v":-0.088},{"t":2007.02,"v":-0.033},{"t":2007.08,"v":-0.088},{"t":2007.14,"v":-0.033},{"t":2007.2,"v":-0.007},{"t":2007.27,"v":0.046},{"t":2007.34,"v":-0.02},{"t":2007.42,"v":-0.02},{"t":2007.5,"v":-0.007},{"t":2007.59,"v":-0.033},{"t":2007.68,"v":-0.04},{"t":2007.76,"v":-0.02},{"t":2007.84,"v":-0.033},{"t":2007.93,"v":-0.007},{"t":2008.04,"v":-0.02},{"t":2008.13,"v":0.02},{"t":2008.21,"v":0.06},{"t":2008.29,"v":0.073},{"t":2008.38,"v":0.099},{"t":2008.47,"v":0.125},{"t":2008.55,"v":0.152},{"t":2008.63,"v":0.219},{"t":2008.7,"v":0.246},{"t":2008.74,"v":0.266},{"t":2008.77,"v":0.099},{"t":2008.83,"v":-0.033},{"t":2008.92,"v":-0.047},{"t":2009.0,"v":-0.075},{"t":2009.08,"v":-0.088},{"t":2009.17,"v":-0.129},{"t":2009.26,"v":-0.169},{"t":2009.34,"v":-0.209},{"t":2009.42,"v":-0.235},{"t":2009.51,"v":-0.262},{"t":2009.6,"v":-0.275},{"t":2009.68,"v":-0.302},{"t":2009.76,"v":-0.329},{"t":2009.83,"v":-0.356},{"t":2009.9,"v":-0.382},{"t":2009.98,"v":-0.422},{"t":2010.07,"v":-0.449},{"t":2010.17,"v":-0.436},{"t":2010.24,"v":-0.422},{"t":2010.32,"v":-0.436},{"t":2010.41,"v":-0.416},{"t":2010.53,"v":-0.436},{"t":2010.64,"v":-0.442},{"t":2010.75,"v":-0.449},{"t":2010.87,"v":-0.449},{"t":2010.98,"v":-0.442},{"t":2011.09,"v":-0.449},{"t":2011.2,"v":-0.436},{"t":2011.32,"v":-0.442},{"t":2011.41,"v":-0.429},{"t":2011.49,"v":-0.476},{"t":2011.54,"v":-0.496},{"t":2011.6,"v":-0.449},{"t":2011.66,"v":-0.422},{"t":2011.71,"v":-0.489},{"t":2011.77,"v":-0.543},{"t":2011.86,"v":-0.583},{"t":2011.94,"v":-0.589},{"t":2012.05,"v":-0.583},{"t":2012.17,"v":-0.589},{"t":2012.28,"v":-0.596},{"t":2012.39,"v":-0.603},{"t":2012.5,"v":-0.596},{"t":2012.56,"v":-0.636},{"t":2012.62,"v":-0.663},{"t":2012.7,"v":-0.636},{"t":2012.79,"v":-0.596},{"t":2012.88,"v":-0.543},{"t":2012.96,"v":-0.489},{"t":2013.04,"v":-0.476},{"t":2013.13,"v":-0.462},{"t":2013.22,"v":-0.449},{"t":2013.3,"v":-0.409},{"t":2013.37,"v":-0.356},{"t":2013.47,"v":-0.302},{"t":2013.56,"v":-0.249},{"t":2013.63,"v":-0.195},{"t":2013.71,"v":-0.169},{"t":2013.8,"v":-0.142},{"t":2013.89,"v":-0.129},{"t":2013.97,"v":-0.122},{"t":2014.05,"v":-0.115},{"t":2014.14,"v":-0.088},{"t":2014.23,"v":-0.06},{"t":2014.31,"v":-0.033},{"t":2014.39,"v":-0.047},{"t":2014.48,"v":0.02},{"t":2014.57,"v":-0.033},{"t":2014.65,"v":-0.007},{"t":2014.73,"v":0.02},{"t":2014.82,"v":0.073},{"t":2014.91,"v":0.125},{"t":2014.99,"v":0.205},{"t":2015.05,"v":0.239},{"t":2015.1,"v":0.165},{"t":2015.16,"v":0.139},{"t":2015.19,"v":0.02},{"t":2015.25,"v":0.006},{"t":2015.33,"v":0.02},{"t":2015.41,"v":0.046},{"t":2015.5,"v":0.086},{"t":2015.59,"v":0.099},{"t":2015.64,"v":0.179},{"t":2015.7,"v":0.205},{"t":2015.78,"v":0.219},{"t":2015.86,"v":0.205},{"t":2015.95,"v":0.232},{"t":2016.04,"v":0.259},{"t":2016.12,"v":0.312},{"t":2016.2,"v":0.326},{"t":2016.29,"v":0.319},{"t":2016.38,"v":0.332},{"t":2016.43,"v":0.272},{"t":2016.49,"v":0.179},{"t":2016.57,"v":0.099},{"t":2016.65,"v":0.046},{"t":2016.74,"v":-0.007},{"t":2016.83,"v":-0.033},{"t":2016.91,"v":-0.088},{"t":2016.99,"v":-0.129},{"t":2017.08,"v":-0.155},{"t":2017.17,"v":-0.142},{"t":2017.25,"v":-0.169},{"t":2017.33,"v":-0.129},{"t":2017.4,"v":-0.155},{"t":2017.45,"v":0.073},{"t":2017.53,"v":0.086},{"t":2017.62,"v":0.099},{"t":2017.67,"v":0.152},{"t":2017.74,"v":0.192},{"t":2017.82,"v":0.219},{"t":2017.9,"v":0.212},{"t":2017.99,"v":0.205},{"t":2018.04,"v":0.099},{"t":2018.1,"v":-0.033},{"t":2018.16,"v":-0.047},{"t":2018.23,"v":-0.033},{"t":2018.32,"v":-0.047},{"t":2018.42,"v":-0.075},{"t":2018.49,"v":-0.088},{"t":2018.57,"v":-0.102},{"t":2018.66,"v":-0.129},{"t":2018.75,"v":-0.155},{"t":2018.83,"v":-0.129},{"t":2018.89,"v":-0.088},{"t":2018.95,"v":-0.033},{"t":2019.03,"v":-0.06},{"t":2019.12,"v":-0.047},{"t":2019.26,"v":-0.06}]
},
"spacing":172,
"bounds":"flush",
"resolve":{"scale":{"color":"independent","y":"independent","x":"independent"},"legend":{"color":"independent"}},
"hconcat":[
{
 "width":506,"height":399,
 "title":{"text":"Rolling Dollar Volatility of One Contract"},
 "layer":[
  {"data":{"name":"lu"},"mark":{"type":"line","strokeWidth":1.4,"clip":true},"encoding":{
   "x":{"field":"t","type":"quantitative","scale":{"domain":[2003.05,2019.26],"nice":false,"zero":false},"axis":{"values":[2005,2007.5,2010,2012.5,2015,2017.5],"labelExpr":"'' + floor(datum.value)","grid":true}},
   "y":{"field":"v","type":"quantitative","scale":{"domain":[133,2493],"nice":false,"zero":false},"axis":{"values":[500,1000,1500,2000],"format":"d","grid":true}},
   "color":{"datum":"US30Y","type":"nominal","scale":{"domain":["US30Y","S&P","DXY"],"range":["#4472C4","#E0282A","#5DB15D"]},"legend":{"legendX":25,"legendY":12.5}}}},
  {"data":{"name":"ls"},"mark":{"type":"line","strokeWidth":1.4,"clip":true},"encoding":{"x":{"field":"t","type":"quantitative"},"y":{"field":"v","type":"quantitative"},"color":{"datum":"S&P","type":"nominal"}}},
  {"data":{"name":"ld"},"mark":{"type":"line","strokeWidth":1.4,"clip":true},"encoding":{"x":{"field":"t","type":"quantitative"},"y":{"field":"v","type":"quantitative"},"color":{"datum":"DXY","type":"nominal"}}}
 ]
},
{
 "width":506,"height":399,
 "title":{"text":"Rolling One-Year Correlations","offset":-6},
 "layer":[
  {"data":{"name":"rus"},"mark":{"type":"line","strokeWidth":1.4,"clip":true},"encoding":{
   "x":{"field":"t","type":"quantitative","scale":{"domain":[2003.05,2019.26],"nice":false,"zero":false},"axis":{"values":[2005,2007.5,2010,2012.5,2015,2017.5],"labelExpr":"'' + floor(datum.value)","grid":true}},
   "y":{"field":"v","type":"quantitative","scale":{"domain":[-0.8,0.8],"nice":false,"zero":false},"axis":{"values":[-0.8,-0.6,-0.4,-0.2,0,0.2,0.4,0.6,0.8],"labelExpr":"datum.value == 0 ? '0' : (datum.value < 0 ? '-' + format(-datum.value, '.1f') : format(datum.value, '.1f'))","grid":true}},
   "color":{"datum":"US30Y - S&P","type":"nominal","scale":{"domain":["US30Y - S&P","US30Y - DXY","S&P - DXY"],"range":["#4472C4","#E0282A","#5DB15D"]},"legend":{"legendX":39,"legendY":12}}}},
  {"data":{"name":"rud"},"mark":{"type":"line","strokeWidth":1.4,"clip":true},"encoding":{"x":{"field":"t","type":"quantitative"},"y":{"field":"v","type":"quantitative"},"color":{"datum":"US30Y - DXY","type":"nominal"}}},
  {"data":{"name":"rsd"},"mark":{"type":"line","strokeWidth":1.4,"clip":true},"encoding":{"x":{"field":"t","type":"quantitative"},"y":{"field":"v","type":"quantitative"},"color":{"datum":"S&P - DXY","type":"nominal"}}},
  {"data":{"values":[{"z":0}]},"mark":{"type":"rule","color":"#444444","strokeWidth":0.9,"strokeDash":[3,3]},"encoding":{"y":{"field":"z","type":"quantitative"}}}
 ]
}
]
}
